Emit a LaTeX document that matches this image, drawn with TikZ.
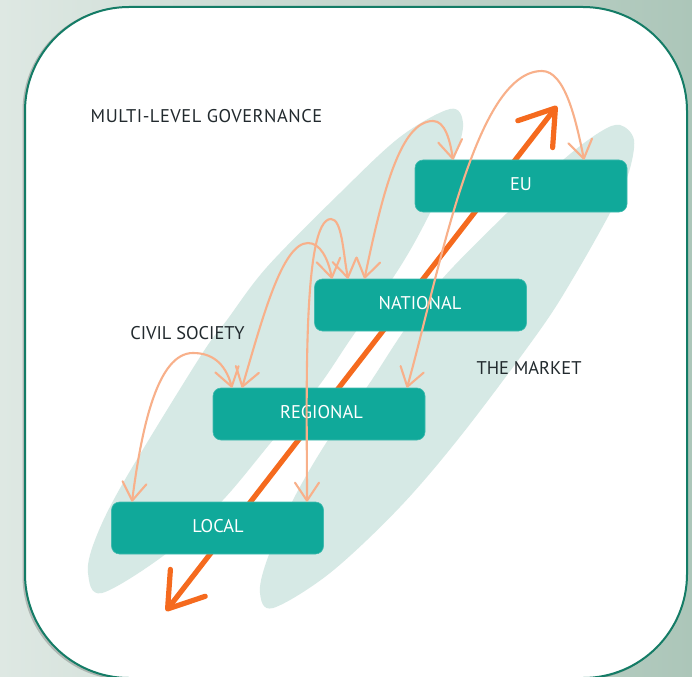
\documentclass[tikz,border=0pt]{standalone}
\usepackage{fontspec}
\setmainfont{PT Sans}
\usetikzlibrary{arrows.meta,shadings}
\definecolor{boxteal}{HTML}{10A99A}
\definecolor{palegreen}{HTML}{D6E9E5}
\definecolor{peach}{HTML}{F8B08A}
\definecolor{deeporange}{HTML}{F56A1E}
\definecolor{panelline}{HTML}{147C66}
\definecolor{inktext}{HTML}{222A2E}
\definecolor{bgleft}{HTML}{DEE8E3}
\definecolor{bgright}{HTML}{ACC6B9}
\tikzset{
  levelbox/.style={fill=boxteal,draw=boxteal!80!white,line width=0.6pt,rounded corners=8pt,minimum width=212pt,minimum height=52pt,inner sep=0pt},
  levellabel/.style={inner sep=0pt,text=white,font=\fontsize{18.4}{22}\selectfont},
  plainlabel/.style={inner sep=0pt,text=inktext,font=\fontsize{18.4}{22}\selectfont},
  blob/.style={fill=palegreen,draw=none},
  swoop/.style={draw=peach,line width=2.1pt,{Straight Barb[length=18pt,width=24pt,round]}-{Straight Barb[length=18pt,width=24pt,round]}},
  bigarrow/.style={draw=deeporange,line width=5.2pt,{Straight Barb[length=33pt,width=44pt,round]}-{Straight Barb[length=33pt,width=44pt,round]}}
}
\begin{document}
\begin{tikzpicture}[x=1pt,y=-1pt]
\useasboundingbox (0,0) rectangle (692,676);
\clip (0,0) rectangle (692,676);
\shade[left color=bgleft,right color=bgright] (0,0) rectangle (692,676);
% panel with soft shadow
\fill[black,opacity=.2,rounded corners=104pt] (22.5,7) rectangle (685.5,680);
\draw[fill=white,draw=panelline,line width=2pt,rounded corners=104pt] (25,7) rectangle (687,678);
% pale blobs
\fill[blob] plot[smooth cycle,tension=.55] coordinates {(102,593) (88,573) (95,540) (123,483) (200,357) (227,320) (267,267) (340,193) (400,137) (450,109) (463,123) (455,157) (430,213) (400,267) (350,340) (318,387) (273,440) (223,500) (167,553)};
\fill[blob] plot[smooth cycle,tension=.55] coordinates {(273,608) (260,593) (267,560) (293,500) (328,440) (367,387) (403,332) (443,278) (507,213) (563,160) (600,132) (620,125) (634,140) (628,175) (610,213) (575,275) (540,330) (463,433) (400,507) (330,573)};
% main two-headed arrow
\coordinate (lowend) at (166,611);
\coordinate (highend) at (557,106);
\draw[bigarrow] (lowend) -- (highend);
% level boxes
\node[levelbox] (eu) at (521,186) {};
\node[levelbox] (national) at (420.5,305) {};
\node[levelbox] (regional) at (319,414) {};
\node[levelbox] (local) at (217.5,528) {};
% swoops
\coordinate (regA) at ([xshift=-87pt]regional.north);
\coordinate (regB) at ([xshift=-77pt]regional.north);
\coordinate (regC) at ([xshift=88pt]regional.north);
\coordinate (locA) at ([xshift=-85.5pt]local.north);
\coordinate (locB) at ([xshift=89.5pt]local.north);
\coordinate (natA) at ([xshift=-88.5pt]national.north);
\coordinate (natB) at ([xshift=-72.5pt]national.north);
\coordinate (natC) at ([xshift=-56pt]national.north);
\coordinate (euA) at ([xshift=-68pt]eu.north);
\coordinate (euB) at ([xshift=63pt]eu.north);
\node[levellabel] (eulabel) at (521,184.5) {EU};
\node[levellabel] (natlabel) at (420,303.5) {NATIONAL};
\node[levellabel] (reglabel) at (321.5,412) {REGIONAL};
\node[levellabel] (loclabel) at (218,526.5) {LOCAL};
\draw[swoop] (regA) .. controls (225,362) and (211,353) .. (193,353) .. controls (158,353) and (142,425) .. (locA);
\draw[swoop] (regB) .. controls (262,320) and (282,243) .. (308,243) .. controls (320,243) and (328,258) .. (natA);
\draw[swoop] (locB) .. controls (307,400) and (302,219) .. (331,219) .. controls (342,219) and (343,252) .. (natB);
\draw[swoop] (natC) .. controls (382,195) and (400,121) .. (433,121) .. controls (445,121) and (450,140) .. (euA);
\draw[swoop] (regC) .. controls (440,270) and (475,71) .. (542,71) .. controls (565,71) and (576,120) .. (euB);
% labels
\node[plainlabel,font=\fontsize{18.4}{22}\selectfont\addfontfeature{LetterSpace=3}] (titlelabel) at (206.5,116.5) {MULTI-LEVEL GOVERNANCE};
\node[plainlabel] (civil) at (187.5,333) {CIVIL SOCIETY};
\node[plainlabel] (market) at (529,367.5) {THE MARKET};
\end{tikzpicture}
\end{document}
